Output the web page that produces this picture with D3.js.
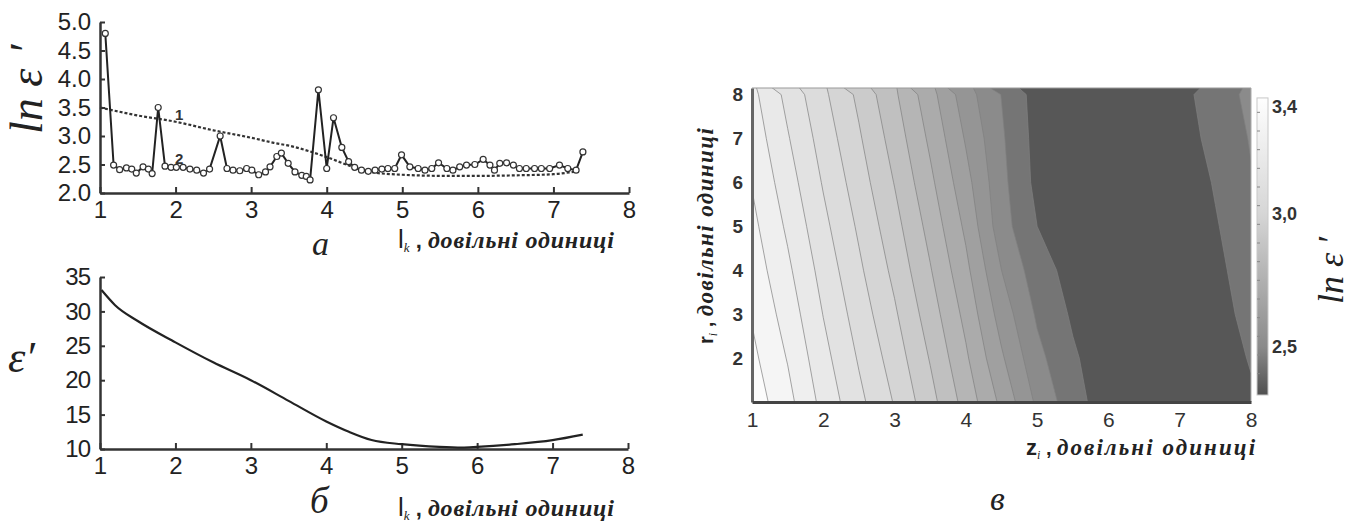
<!DOCTYPE html>
<meta charset="utf-8">
<style>

body {
  margin: 0;
  background: #fff;
  font-family: "Liberation Sans", Arial, sans-serif;
}

svg {
	display: block;
}

.serif {
	font-family: "Liberation Serif", "DejaVu Serif", serif;
	font-style: italic;
}

</style>
<body>

<script src="https://d3js.org/d3.v7.min.js"></script>
<script>

// ---- chart а : ln e' vs lk ----
let ticksX = [1, 2, 3, 4, 5, 6, 7, 8];
let ticksAy = [2.0, 2.5, 3.0, 3.5, 4.0, 4.5, 5.0];

// curve 1 (dashed)
let a1X = [1.0, 1.5, 2.0, 2.5, 3.0, 3.3, 3.5, 4.0, 4.3, 4.57, 5.0, 5.6, 6.0, 6.5, 7.0, 7.3];
let a1Y = [3.5, 3.36, 3.25, 3.1, 2.97, 2.88, 2.83, 2.63, 2.48, 2.37, 2.32, 2.3, 2.3, 2.31, 2.33, 2.38];

// curve 2 (points)
let a2X = [1.07, 1.18, 1.26, 1.35, 1.42, 1.48, 1.57, 1.64, 1.69, 1.77, 1.86, 1.94, 2.01, 2.10, 2.19, 2.28,
	2.37, 2.45, 2.59, 2.68, 2.76, 2.85, 2.94, 3.01, 3.10, 3.19, 3.25, 3.34, 3.40, 3.49, 3.58, 3.67,
	3.73, 3.78, 3.89, 4.0, 4.09, 4.2, 4.29, 4.37, 4.46, 4.55, 4.64, 4.73, 4.81, 4.90, 4.99, 5.10,
	5.21, 5.30, 5.39, 5.48, 5.59, 5.67, 5.76, 5.85, 5.96, 6.07, 6.16, 6.22, 6.29, 6.38, 6.47, 6.55,
	6.64, 6.75, 6.84, 6.95, 7.08, 7.19, 7.30, 7.39];
let a2Y = [4.8, 2.49, 2.41, 2.44, 2.42, 2.35, 2.46, 2.42, 2.34, 3.5, 2.47, 2.45, 2.45, 2.45, 2.42, 2.40,
	2.35, 2.42, 3.0, 2.43, 2.40, 2.39, 2.43, 2.40, 2.32, 2.37, 2.46, 2.64, 2.70, 2.52, 2.37, 2.31,
	2.29, 2.23, 3.81, 2.43, 3.32, 2.8, 2.55, 2.45, 2.40, 2.38, 2.40, 2.42, 2.43, 2.43, 2.67, 2.46,
	2.43, 2.40, 2.43, 2.53, 2.43, 2.40, 2.46, 2.49, 2.50, 2.59, 2.49, 2.40, 2.52, 2.53, 2.49, 2.43,
	2.43, 2.43, 2.43, 2.43, 2.49, 2.43, 2.40, 2.72];

// ---- chart б : e' vs lk ----
let ticksBy = [10, 15, 20, 25, 30, 35];
let bX = [1.02, 1.2, 1.5, 2.0, 2.5, 3.0, 3.5, 4.0, 4.3, 4.6, 5.0, 5.5, 5.8, 6.0, 6.5, 7.0, 7.4];
let bY = [33.1, 30.9, 28.6, 25.5, 22.6, 20.0, 17.0, 14.0, 12.5, 11.3, 10.7, 10.3, 10.2, 10.3, 10.7, 11.3, 12.1];

// ---- chart в : ln e' map over z, r ----
let gridZ = [1, 1.5, 2, 2.5, 3, 3.5, 4, 4.5, 5, 5.5, 6, 6.5, 7, 7.5, 8];
let gridR = [1, 2, 3, 4, 5, 6, 7, 8];
let gridV = [
	[3.42, 3.332, 3.218, 3.118, 3.025, 2.915, 2.793, 2.664, 2.526, 2.428, 2.36, 2.34, 2.34, 2.355, 2.39],
	[3.397, 3.306, 3.193, 3.093, 2.998, 2.885, 2.761, 2.62, 2.49, 2.41, 2.355, 2.335, 2.34, 2.365, 2.405],
	[3.374, 3.28, 3.168, 3.068, 2.97, 2.855, 2.73, 2.58, 2.46, 2.39, 2.35, 2.335, 2.345, 2.375, 2.42],
	[3.351, 3.254, 3.144, 3.043, 2.942, 2.825, 2.698, 2.54, 2.43, 2.375, 2.345, 2.335, 2.35, 2.385, 2.43],
	[3.329, 3.228, 3.119, 3.019, 2.915, 2.796, 2.666, 2.50, 2.40, 2.36, 2.34, 2.34, 2.355, 2.395, 2.44],
	[3.306, 3.202, 3.094, 2.994, 2.887, 2.766, 2.634, 2.49, 2.38, 2.355, 2.34, 2.34, 2.36, 2.405, 2.465],
	[3.283, 3.176, 3.07, 2.969, 2.86, 2.736, 2.603, 2.48, 2.375, 2.35, 2.34, 2.345, 2.37, 2.42, 2.475],
	[3.26, 3.15, 3.045, 2.944, 2.832, 2.706, 2.571, 2.468, 2.37, 2.35, 2.34, 2.35, 2.38, 2.43, 2.49]
];
let levels = [2.40, 2.47, 2.54, 2.61, 2.68, 2.75, 2.82, 2.89, 2.96, 3.03, 3.10, 3.17, 3.24, 3.31, 3.38];
let ticksCy = [2, 3, 4, 5, 6, 7, 8];
let cbTicks = [2.5, 3.0, 3.4];


let svg = d3.select("body")
	.append("svg")
	.attr("width", 1363)
	.attr("height", 524);

function styleAxis(g, w) {
	g.attr("font-family", null).attr("font-size", null);
	g.select(".domain").attr("stroke", "#333").attr("stroke-width", w);
	g.selectAll(".tick line").attr("stroke", "#333").attr("stroke-width", 2);
	g.selectAll(".tick text").attr("fill", "#222");
}

function axisTitle(x, y, sub, len) {
	let t = svg.append("text")
		.attr("x", x)
		.attr("y", y)
		.attr("fill", "#222");
	t.append("tspan").attr("font-size", 26).text(sub[0]);
	t.append("tspan").attr("class", "serif").attr("font-size", 13).attr("dy", 4).text(sub[1]);
	t.append("tspan").attr("font-size", 22).attr("dy", -4).attr("font-weight", "bold").text(" , ");
	t.append("tspan")
		.attr("class", "serif")
		.attr("font-size", 24)
		.attr("font-weight", "bold")
		.attr("textLength", len)
		.attr("lengthAdjust", "spacing")
		.text("довільні одиниці");
	return t;
}

let fmtInt = d3.format("d");

/* ------- CHART A -------*/
let xA = d3.scaleLinear().domain([1, 8]).range([100, 629]);
let yA = d3.scaleLinear().domain([2, 5]).range([193, 22]);

svg.append("g")
	.attr("transform", "translate(0,193)")
	.call(d3.axisBottom(xA).tickValues(ticksX).tickFormat(fmtInt).tickSize(-6).tickSizeOuter(0).tickPadding(8))
	.call(styleAxis, 2.5)
	.selectAll("text").attr("font-size", 24);

svg.append("g")
	.attr("transform", "translate(100,0)")
	.call(d3.axisLeft(yA).tickValues(ticksAy).tickFormat(d3.format(".1f")).tickSize(-5).tickSizeOuter(0).tickPadding(9))
	.call(styleAxis, 2.5)
	.selectAll("text").attr("font-size", 24);

let a1 = a1X.map((x, i) => [x, a1Y[i]]);
let a2 = a2X.map((x, i) => [x, a2Y[i]]);

svg.append("path")
	.datum(a1)
	.attr("fill", "none")
	.attr("stroke", "#333")
	.attr("stroke-width", 2.2)
	.attr("stroke-dasharray", "3,2")
	.attr("d", d3.line().x(d => xA(d[0])).y(d => yA(d[1])).curve(d3.curveMonotoneX));

svg.append("path")
	.datum(a2)
	.attr("fill", "none")
	.attr("stroke", "#222")
	.attr("stroke-width", 2)
	.attr("d", d3.line().x(d => xA(d[0])).y(d => yA(d[1])));

svg.append("g").selectAll("circle")
	.data(a2)
	.enter().append("circle")
	.attr("cx", d => xA(d[0]))
	.attr("cy", d => yA(d[1]))
	.attr("r", 3)
	.attr("fill", "#fff")
	.attr("stroke", "#333")
	.attr("stroke-width", 1.2);

svg.append("text").attr("x", 175).attr("y", 120).attr("font-size", 15).attr("font-weight", "bold").attr("fill", "#333").text("1");
svg.append("text").attr("x", 175).attr("y", 164).attr("font-size", 15).attr("font-weight", "bold").attr("fill", "#333").text("2");

let ya = svg.append("text")
	.attr("class", "serif")
	.attr("transform", "translate(42,134) rotate(-90)")
	.attr("font-size", 46)
	.attr("fill", "#222");
ya.append("tspan").text("ln ε");
ya.append("tspan").attr("dx", 14).text("′");

svg.append("text").attr("class", "serif").attr("x", 312).attr("y", 255).attr("font-size", 34).attr("fill", "#222").text("а");
axisTitle(398, 248, ["l", "k"], 186);

/* ------- CHART B -------*/
let xB = d3.scaleLinear().domain([1, 8]).range([100, 628]);
let yB = d3.scaleLinear().domain([10, 35]).range([449, 277]);

svg.append("g")
	.attr("transform", "translate(0,449)")
	.call(d3.axisBottom(xB).tickValues(ticksX).tickFormat(fmtInt).tickSize(-6).tickSizeOuter(0).tickPadding(8))
	.call(styleAxis, 2.5)
	.selectAll("text").attr("font-size", 24);

svg.append("g")
	.attr("transform", "translate(100,0)")
	.call(d3.axisLeft(yB).tickValues(ticksBy).tickSize(-5).tickSizeOuter(0).tickPadding(10))
	.call(styleAxis, 2.5)
	.selectAll("text").attr("font-size", 24).attr("letter-spacing", -1);

let bData = bX.map((x, i) => [x, bY[i]]);
svg.append("path")
	.datum(bData)
	.attr("fill", "none")
	.attr("stroke", "#222")
	.attr("stroke-width", 2.2)
	.attr("d", d3.line().x(d => xB(d[0])).y(d => yB(d[1])).curve(d3.curveMonotoneX));

svg.append("text")
	.attr("class", "serif")
	.attr("x", 8).attr("y", 372)
	.attr("font-size", 44)
	.attr("fill", "#222")
	.text("ε′");

svg.append("text").attr("class", "serif").attr("x", 310).attr("y", 513).attr("font-size", 37).attr("fill", "#222").text("б");
axisTitle(398, 516, ["l", "k"], 186);

/* ------- CHART C -------*/
let xC = d3.scaleLinear().domain([1, 8]).range([752, 1251]);
let yC = d3.scaleLinear().domain([1, 8.15]).range([402, 88]);

let gray = d3.scaleLinear()
	.domain([2.3, 2.5, 3.0, 3.45])
	.range(["#4a4a4a", "#8a8a8a", "#d6d6d6", "#ffffff"]);

svg.append("clipPath").attr("id", "clipC")
	.append("rect")
	.attr("x", xC(1)).attr("y", yC(8.15))
	.attr("width", xC(8) - xC(1)).attr("height", yC(1) - yC(8.15));

let plotC = svg.append("g").attr("clip-path", "url(#clipC)");

plotC.append("rect")
	.attr("x", xC(1)).attr("y", yC(8.15))
	.attr("width", xC(8) - xC(1)).attr("height", yC(1) - yC(8.15))
	.attr("fill", gray(2.34));

let nz = gridZ.length, nr = gridR.length;
let flat = [];
for (let j = 0; j < nr; j++) for (let i = 0; i < nz; i++) flat.push(gridV[j][i]);

let dz = gridZ[1] - gridZ[0], dr = gridR[1] - gridR[0];
let proj = d3.geoTransform({
	point: function(px, py) {
		this.stream.point(xC(gridZ[0] + (px - 0.5) * dz), yC(gridR[0] + (py - 0.5) * dr));
	}
});
let cpath = d3.geoPath(proj);
let step = levels[1] - levels[0];

let bands = d3.contours().size([nz, nr]).thresholds(levels)(flat);

plotC.selectAll("path.band")
	.data(bands)
	.enter().append("path")
	.attr("class", "band")
	.attr("d", cpath)
	.attr("fill", d => gray(d.value + step / 2))
	.attr("stroke", "#808080")
	.attr("stroke-width", 0.7);

// frame
svg.append("line").attr("x1", xC(1)).attr("x2", xC(8)).attr("y1", yC(8.15)).attr("y2", yC(8.15))
	.attr("stroke", "#999").attr("stroke-width", 1);
svg.append("line").attr("x1", xC(8)).attr("x2", xC(8)).attr("y1", yC(8.15)).attr("y2", yC(1))
	.attr("stroke", "#aaa").attr("stroke-width", 1);

let gyC = svg.append("g")
	.attr("transform", "translate(" + xC(1) + ",0)")
	.call(d3.axisLeft(yC).tickValues(ticksCy).tickFormat(fmtInt).tickSize(0).tickSizeOuter(0).tickPadding(9));
styleAxis(gyC, 3);
gyC.select(".domain").attr("stroke", "#666");
gyC.selectAll("text").attr("font-size", 19).attr("font-weight", "bold").attr("fill", "#333");

let gxC = svg.append("g")
	.attr("transform", "translate(0," + yC(1) + ")")
	.call(d3.axisBottom(xC).tickValues(ticksX).tickFormat(fmtInt).tickSize(0).tickSizeOuter(0).tickPadding(10));
styleAxis(gxC, 3);
gxC.select(".domain").attr("stroke", "#444");
gxC.selectAll("text").attr("font-size", 21).attr("fill", "#333");

// colorbar
let cb = d3.scaleLinear().domain([2.5, 3.4]).range([347, 107]);
let cbMin = 2.32, cbMax = 3.434;
let grad = svg.append("defs").append("linearGradient")
	.attr("id", "cbGrad")
	.attr("x1", 0).attr("x2", 0).attr("y1", 1).attr("y2", 0);
grad.selectAll("stop")
	.data(gray.domain().map(v => Math.min(Math.max(v, cbMin), cbMax)))
	.enter().append("stop")
	.attr("offset", v => (v - cbMin) / (cbMax - cbMin))
	.attr("stop-color", v => gray(v));

svg.append("rect")
	.attr("x", 1257).attr("width", 11)
	.attr("y", cb(cbMax)).attr("height", cb(cbMin) - cb(cbMax))
	.attr("fill", "url(#cbGrad)")
	.attr("stroke", "#c8c8c8")
	.attr("stroke-width", 1);

svg.append("g").selectAll("line")
	.data(levels)
	.enter().append("line")
	.attr("x1", 1257).attr("x2", 1260)
	.attr("y1", d => cb(d)).attr("y2", d => cb(d))
	.attr("stroke", "#888").attr("stroke-width", 1);

svg.append("g").selectAll("text")
	.data(cbTicks)
	.enter().append("text")
	.attr("x", 1272)
	.attr("y", d => cb(d))
	.attr("dy", "0.36em")
	.attr("font-size", 18)
	.attr("font-weight", "bold")
	.attr("fill", "#333")
	.text(d => d3.format(".1f")(d).replace(".", ","));

let yc = svg.append("text")
	.attr("class", "serif")
	.attr("transform", "translate(1343,304) rotate(-90)")
	.attr("font-size", 36)
	.attr("fill", "#222");
yc.append("tspan").text("ln ε");
yc.append("tspan").attr("dx", 8).text("′");

// axis titles of chart в
let tz = svg.append("text").attr("x", 1026).attr("y", 455).attr("fill", "#222");
tz.append("tspan").attr("font-size", 22).attr("font-weight", "bold").text("z");
tz.append("tspan").attr("class", "serif").attr("font-size", 12).attr("dy", 4).text("i");
tz.append("tspan").attr("font-size", 20).attr("dy", -4).attr("font-weight", "bold").text(" , ");
tz.append("tspan").attr("class", "serif").attr("font-size", 23).attr("font-weight", "bold")
	.attr("textLength", 198).attr("lengthAdjust", "spacing").text("довільні одиниці");

let tr = svg.append("text").attr("transform", "translate(713,344) rotate(-90)").attr("fill", "#222");
tr.append("tspan").attr("font-size", 20).attr("font-weight", "bold").text("r");
tr.append("tspan").attr("class", "serif").attr("font-size", 12).attr("dy", 4).text("i");
tr.append("tspan").attr("font-size", 20).attr("dy", -4).attr("font-weight", "bold").text(" , ");
tr.append("tspan").attr("class", "serif").attr("font-size", 23).attr("font-weight", "bold")
	.attr("textLength", 188).attr("lengthAdjust", "spacing").text("довільні одиниці");

svg.append("text").attr("class", "serif").attr("x", 990).attr("y", 510).attr("font-size", 34).attr("fill", "#222").text("в");

</script>
</body>
